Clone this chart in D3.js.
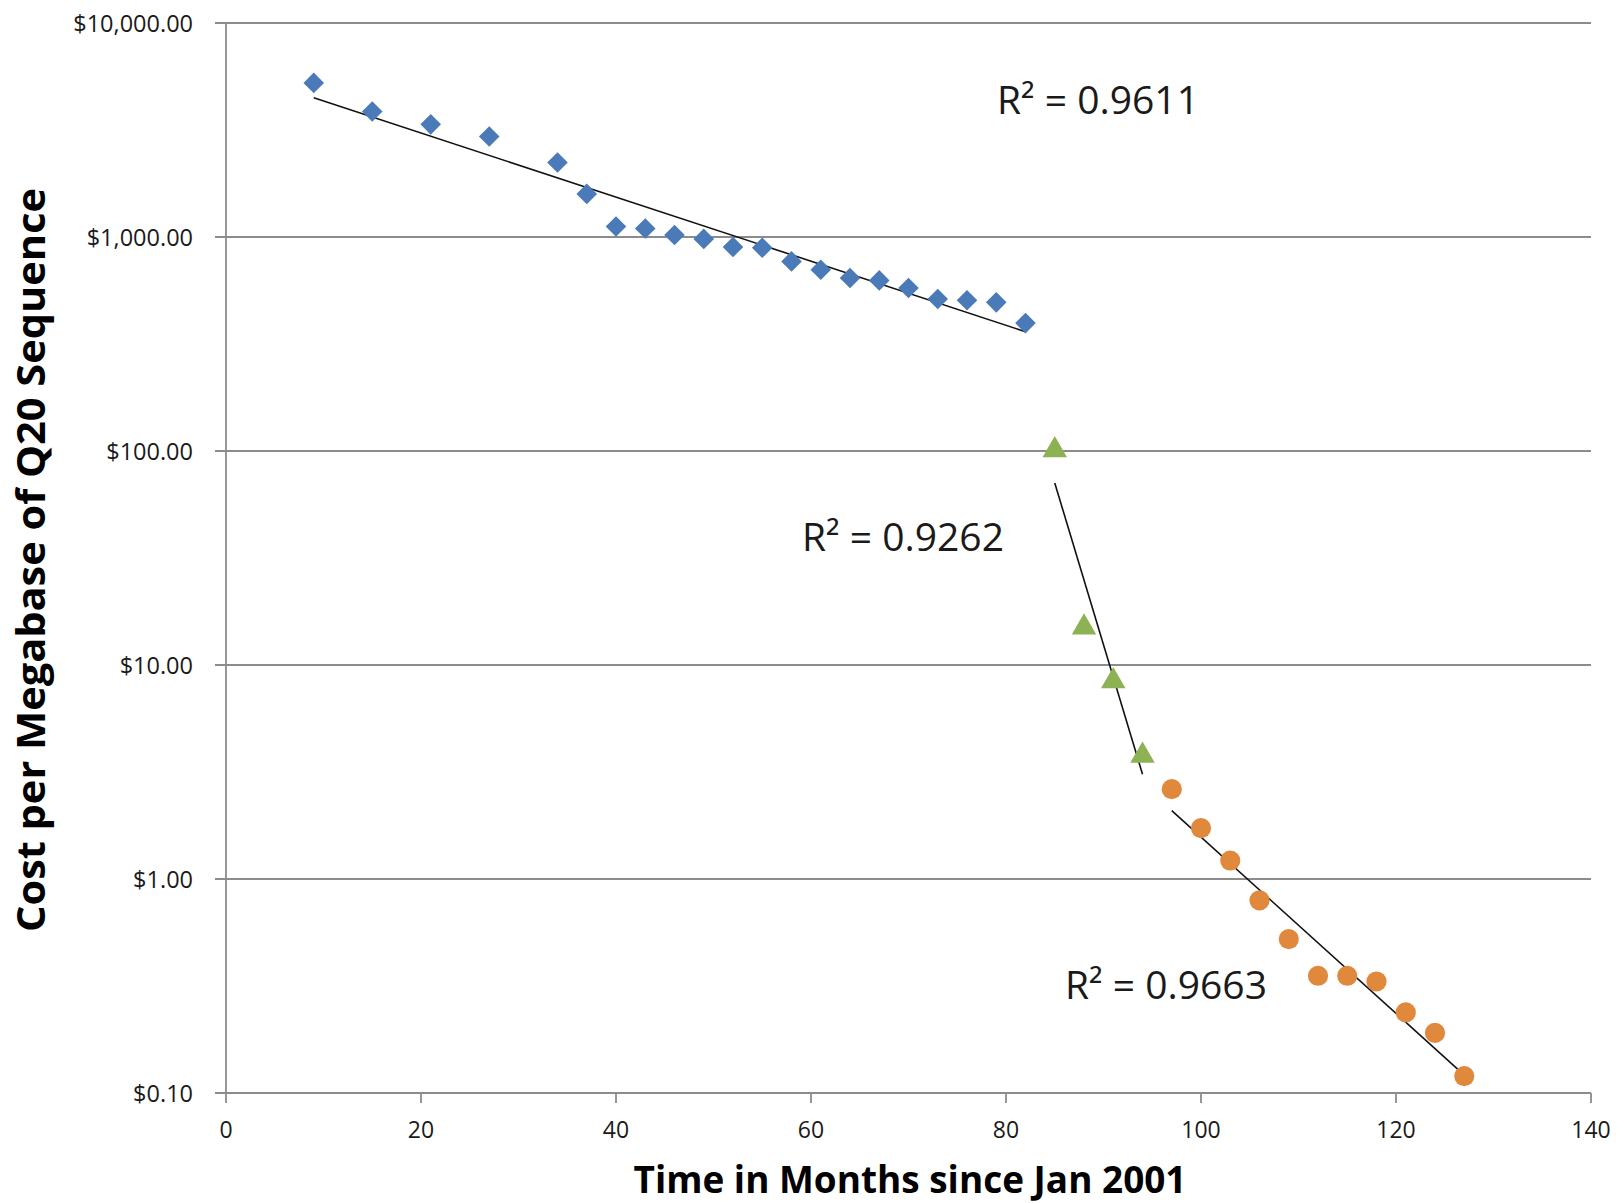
<!DOCTYPE html>
<html lang="en">
<head>
  <meta charset="UTF-8">
  <title>Cost per Megabase of Q20 Sequence</title>
  <style>
    body { margin: 0; background: #fff; }
    text { font-family: "Open Sans", "Liberation Sans", sans-serif; fill: #1a1a1a; }
  </style>
</head>
<body>
  <div id="chart"></div>
  <script src="https://d3js.org/d3.v7.min.js"></script>
  <script>

    // months since Jan 2001 and cost per megabase (USD)
    const blueMonths = [9, 15, 21, 27, 34, 37, 40, 43, 46, 49, 52, 55, 58, 61, 64, 67, 70, 73, 76, 79, 82];
    const blueCost = [5250, 3860, 3360, 2950, 2230, 1590, 1120, 1095, 1022, 980, 898, 890, 769, 703, 643, 627, 578, 513, 506, 495, 396];

    const greenMonths = [85, 88, 91, 94];
    const greenCost = [101, 15.0, 8.4, 3.77];

    const orangeMonths = [97, 100, 103, 106, 109, 112, 115, 118, 121, 124, 127];
    const orangeCost = [2.63, 1.73, 1.22, 0.794, 0.524, 0.353, 0.353, 0.332, 0.238, 0.191, 0.120];

    const rSquared = ["0.9611", "0.9262", "0.9663"];

    const xTicks = [0, 20, 40, 60, 80, 100, 120, 140];
    const yTicks = [0.1, 1, 10, 100, 1000, 10000];

    const width = 1624,
          height = 1203,
          margin = {top: 23, right: 33, bottom: 110, left: 226};

    const svg = d3.select("#chart")
      .append("svg")
      .attr("width", width)
      .attr("height", height);

    const x = d3.scaleLinear([0, 140], [margin.left, width - margin.right]);
    const y = d3.scaleLog([0.1, 10000], [height - margin.bottom, margin.top]);

    const gridColor = "#8c8c8c";

    // horizontal gridlines with short ticks to the left
    svg.append("g")
      .selectAll("line")
      .data(yTicks)
      .join("line")
      .attr("x1", margin.left - 11)
      .attr("x2", width - margin.right)
      .attr("y1", d => y(d))
      .attr("y2", d => y(d))
      .attr("stroke", gridColor)
      .attr("stroke-width", 1.8);

    // y axis line
    svg.append("line")
      .attr("x1", x(0)).attr("x2", x(0))
      .attr("y1", y(10000)).attr("y2", y(0.1))
      .attr("stroke", gridColor)
      .attr("stroke-width", 1.8);

    // x ticks
    svg.append("g")
      .selectAll("line")
      .data(xTicks)
      .join("line")
      .attr("x1", d => x(d))
      .attr("x2", d => x(d))
      .attr("y1", y(0.1))
      .attr("y2", y(0.1) + 10)
      .attr("stroke", gridColor)
      .attr("stroke-width", 1.8);

    const money = d3.format("$,.2f");

    svg.append("g")
      .selectAll("text")
      .data(yTicks)
      .join("text")
      .attr("x", margin.left - 33)
      .attr("y", d => y(d))
      .attr("dy", "0.38em")
      .attr("text-anchor", "end")
      .style("font-size", "23.5px")
      .text(d => money(d));

    svg.append("g")
      .selectAll("text")
      .data(xTicks)
      .join("text")
      .attr("x", d => x(d))
      .attr("y", y(0.1) + 45)
      .attr("text-anchor", "middle")
      .style("font-size", "23px")
      .text(d => d);

    // trend lines: least squares on log10(cost), like Excel's exponential trendline
    function trend(xs, ys) {
      const ly = ys.map(Math.log10);
      const mx = d3.mean(xs), my = d3.mean(ly);
      const slope = d3.sum(xs, (v, i) => (v - mx) * (ly[i] - my)) / d3.sum(xs, v => (v - mx) ** 2);
      const ends = d3.extent(xs);
      return ends.map(v => [v, Math.pow(10, my + slope * (v - mx))]);
    }

    const line = d3.line(d => x(d[0]), d => y(d[1]));

    [[blueMonths, blueCost], [greenMonths, greenCost], [orangeMonths, orangeCost]].forEach(([xs, ys]) => {
      svg.append("path")
        .attr("d", line(trend(xs, ys)))
        .attr("fill", "none")
        .attr("stroke", "#111")
        .attr("stroke-width", 1.6);
    });

    // markers
    const series = [
      {months: blueMonths, cost: blueCost, color: "#4a7ab8", shape: d3.symbolDiamond2, size: 270},
      {months: greenMonths, cost: greenCost, color: "#8db254", shape: d3.symbolTriangle, size: 260},
      {months: orangeMonths, cost: orangeCost, color: "#e0883c", shape: d3.symbolCircle, size: 320}
    ];

    series.forEach(s => {
      svg.append("g")
        .selectAll("path")
        .data(s.months)
        .join("path")
        .attr("transform", (d, i) => `translate(${x(d)},${y(s.cost[i])})`)
        .attr("d", d3.symbol(s.shape, s.size))
        .attr("fill", s.color);
    });

    // R² annotations
    const labelPos = [[997, 114], [802, 551], [1065, 999]];
    svg.append("g")
      .selectAll("text")
      .data(rSquared)
      .join("text")
      .attr("x", (d, i) => labelPos[i][0])
      .attr("y", (d, i) => labelPos[i][1])
      .style("font-size", "39px")
      .text(d => `R² = ${d}`);

    svg.append("text") // x axis title
      .attr("x", 910)
      .attr("y", 1193)
      .attr("text-anchor", "middle")
      .attr("textLength", 553)
      .attr("lengthAdjust", "spacingAndGlyphs")
      .style("font-size", "38px")
      .style("font-weight", "bold")
      .style("fill", "#000")
      .text("Time in Months since Jan 2001");

    svg.append("text") // y axis title
      .attr("transform", "translate(45,560) rotate(-90)")
      .attr("text-anchor", "middle")
      .attr("textLength", 744)
      .attr("lengthAdjust", "spacingAndGlyphs")
      .style("font-size", "40px")
      .style("font-weight", "bold")
      .style("fill", "#000")
      .text("Cost per Megabase of Q20 Sequence");

  </script>
</body>
</html>
